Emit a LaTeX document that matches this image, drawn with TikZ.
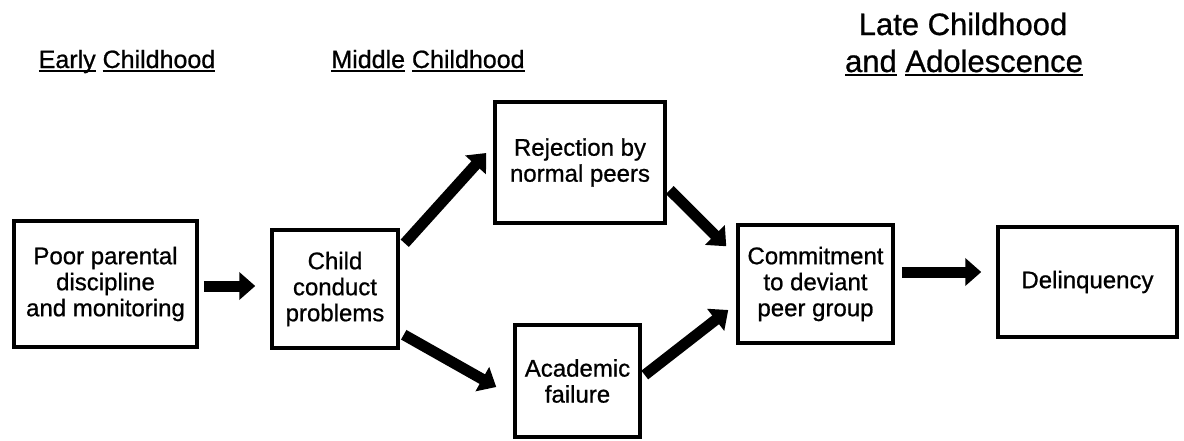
\documentclass[tikz,border=0pt]{standalone}
\usepackage{fontspec}
\setmainfont{Liberation Sans}[FakeBold=0.8]
\usetikzlibrary{calc,positioning,arrows.meta}
\newlength\uwordlen
\newcommand\uword[1]{\settowidth\uwordlen{#1}\rlap{#1}\rule[-4pt]{\uwordlen}{1.8pt}}

\begin{document}
\begin{tikzpicture}[x=1pt,y=-1pt,
  stagebox/.style={draw, line width=3.5pt, align=center, inner sep=0pt,
    font=\fontsize{24}{26}\selectfont},
  heading/.style={anchor=base, font=\fontsize{25}{30}\selectfont},
  bigheading/.style={anchor=base, font=\fontsize{31}{37}\selectfont},
  bigarrow/.style={line width=11pt, -{Triangle[length=16pt,width=27pt]}}]
  \useasboundingbox (0,0) rectangle (1184,440);

  \node[heading] (early) at (127,68) {\uword{Early} \uword{Childhood}};
  \node[heading] (middle) at (428,68) {\uword{Middle} \uword{Childhood}};
  \node[bigheading] (late) at (963,35) {Late Childhood};
  \node[bigheading] (adol) at (964,72) {\uword{and} \uword{Adolescence}};

  \node[stagebox, minimum width=183, minimum height=126] (parent) at (105.5,284)
    {Poor parental\\discipline\\and monitoring};
  \node[stagebox, minimum width=126, minimum height=118] (conduct) at (335,289)
    {Child\\conduct\\problems};
  \node[stagebox, minimum width=170, minimum height=121] (reject) at (580,162.5)
    {Rejection by\\normal peers};
  \node[stagebox, minimum width=125, minimum height=112] (academic) at (577.5,381)
    {Academic\\failure};
  \node[stagebox, minimum width=155, minimum height=118] (deviant) at (815.5,284)
    {Commitment\\to deviant\\peer group};
  \node[stagebox, minimum width=179, minimum height=110] (delinq) at (1087.5,282)
    {Delinquency};

  \draw[bigarrow] ($(parent.east)+(5,2)$) -- ($(conduct.west)+(-15,-3)$);
  \draw[bigarrow] ($(conduct.north east)+(5,15)$) -- ($(reject.west)+(-7,-9.5)$);
  \draw[bigarrow] ($(conduct.south east)+(4,-15)$) -- ($(academic.west)+(-17,6)$);
  \draw[bigarrow] ($(reject.east)+(3,27.5)$) -- ($(deviant.north west)+(-10,23)$);
  \draw[bigarrow] ($(academic.east)+(3,-6)$) -- ($(deviant.west)+(-8,26)$);
  \draw[bigarrow] ($(deviant.east)+(7,-12)$) -- ($(delinq.west)+(-15,-10)$);
\end{tikzpicture}
\end{document}
